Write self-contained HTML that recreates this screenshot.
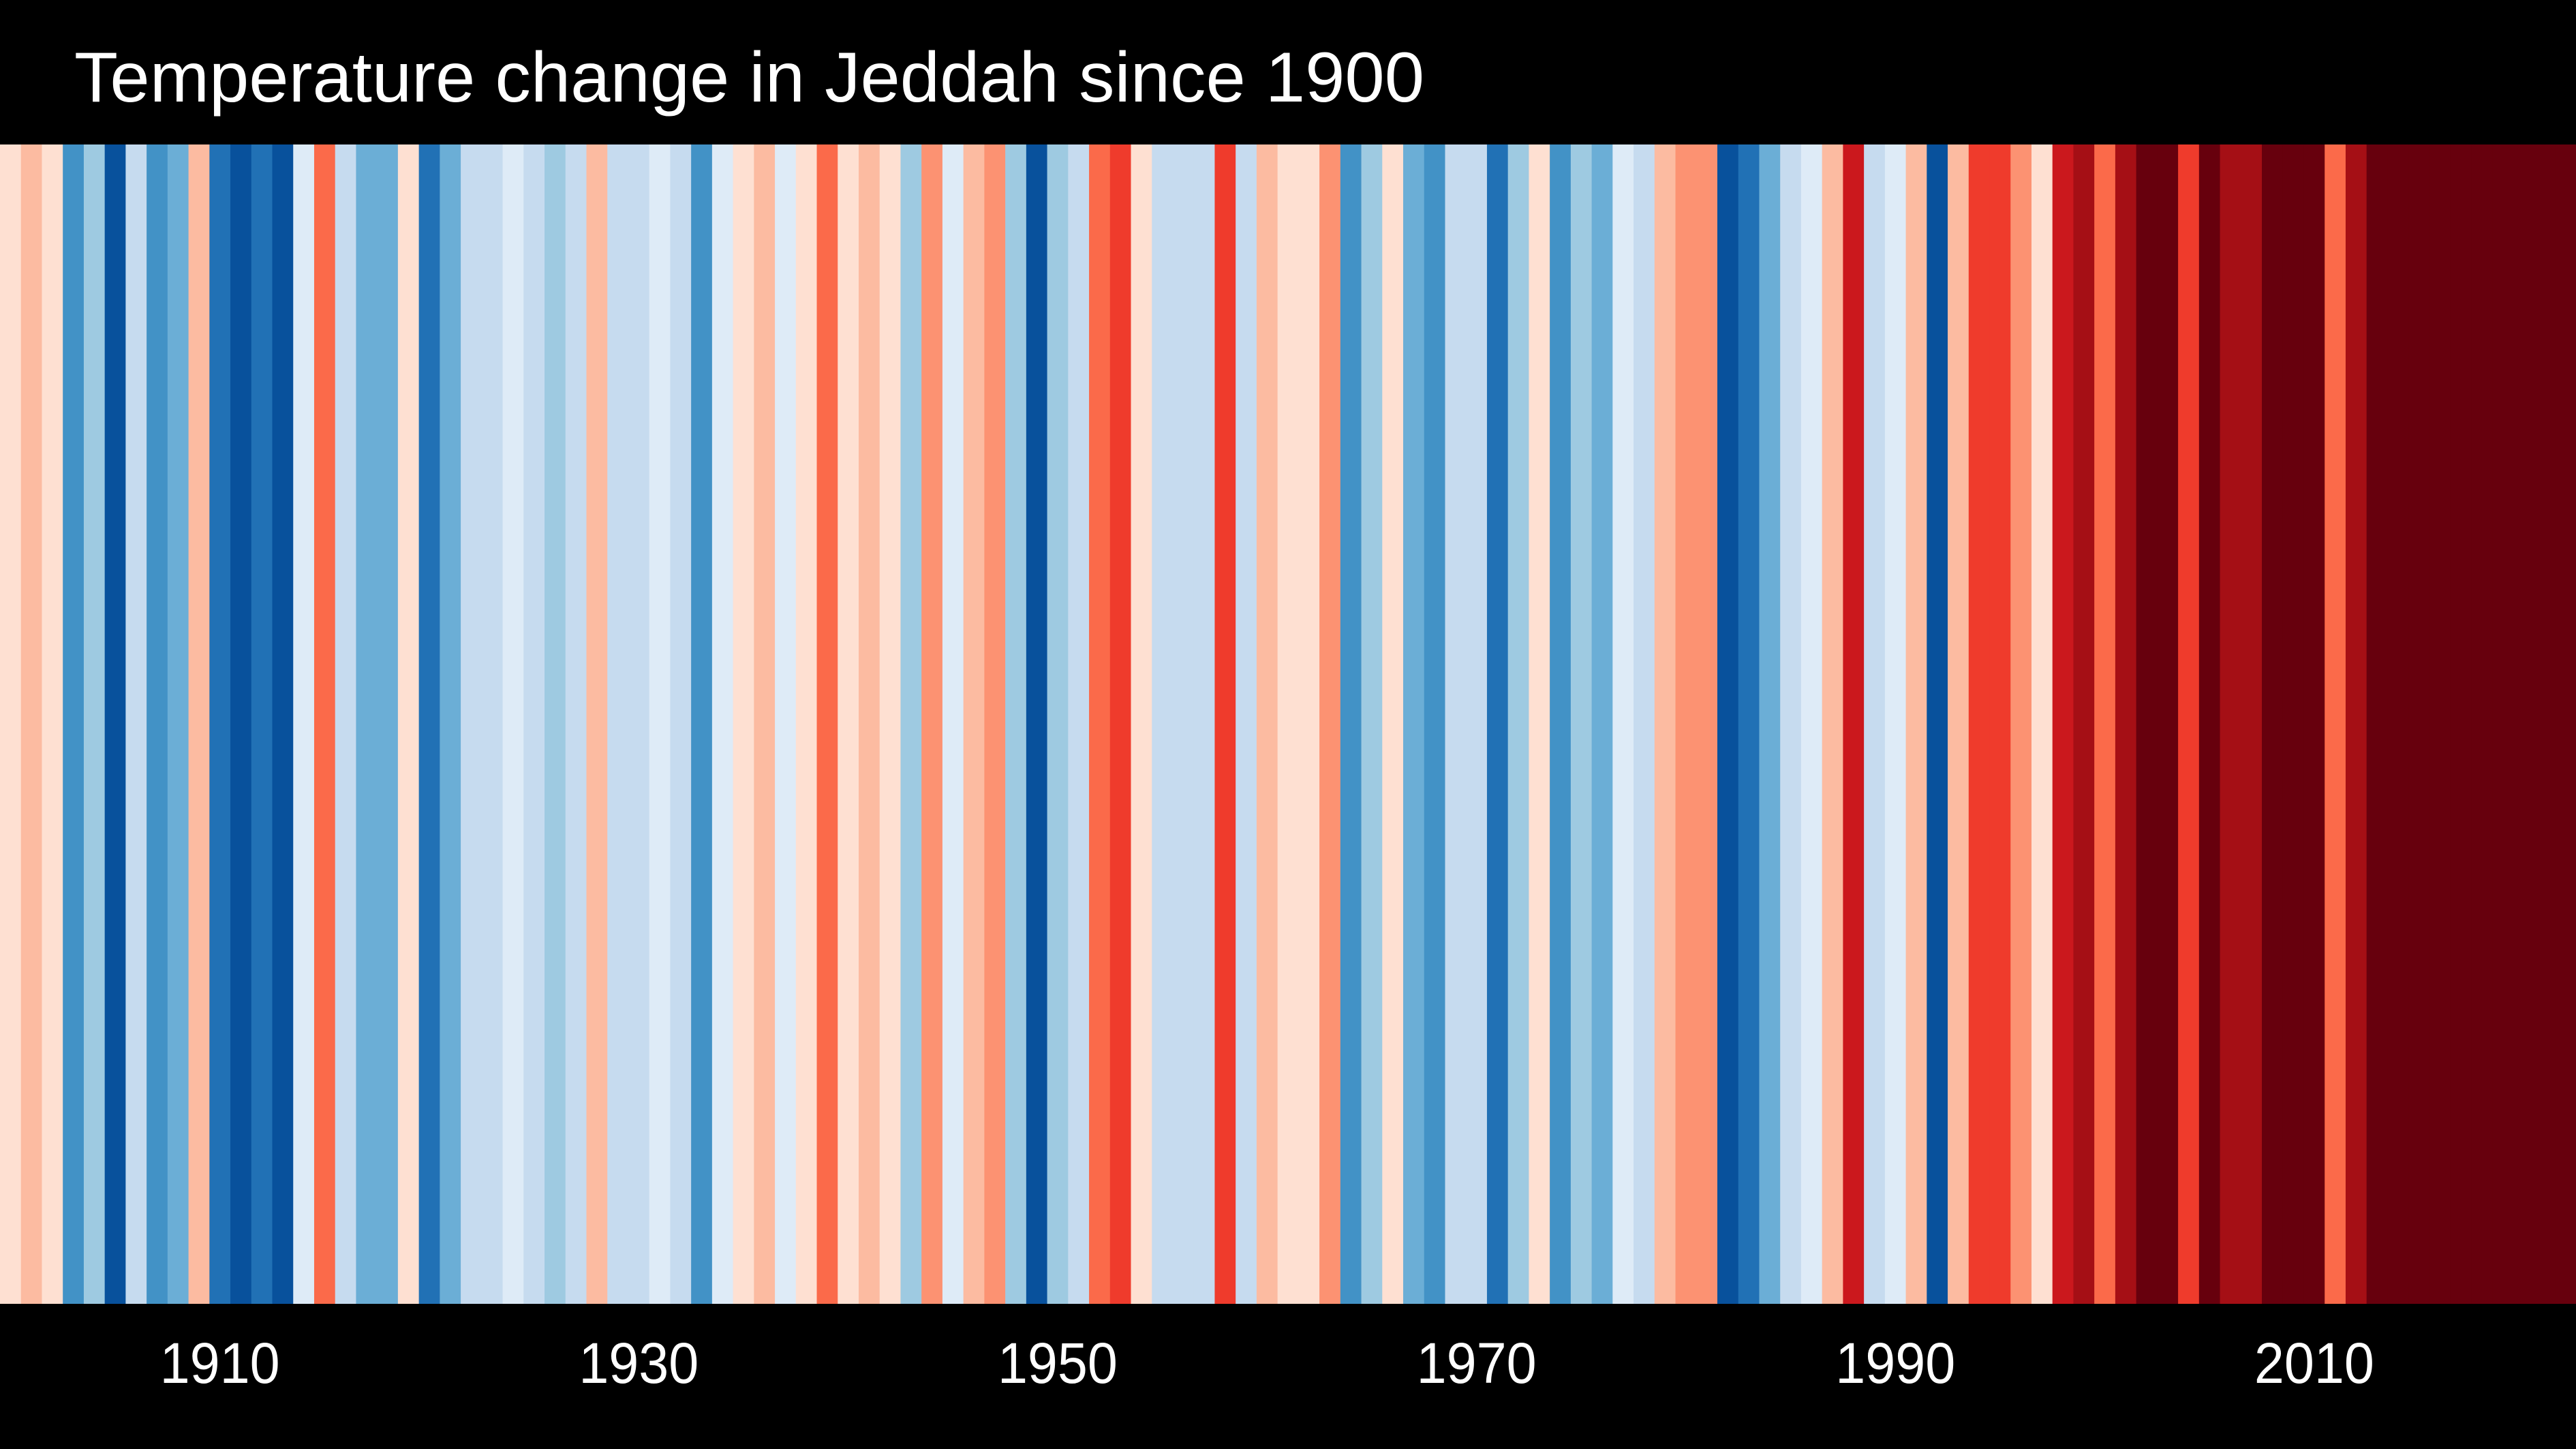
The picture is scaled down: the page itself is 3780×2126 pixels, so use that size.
<!DOCTYPE html>
<html><head><meta charset="utf-8"><style>
html,body{margin:0;padding:0;background:#000;}
svg{display:block;}
</style></head><body>
<svg id="chart" width="3780" height="2126" viewBox="0 0 3780 2126" xmlns="http://www.w3.org/2000/svg">
<rect x="0" y="0" width="3780" height="2126" fill="#000"/>
<text x="109" y="149" font-family="Liberation Sans, sans-serif" font-size="104" fill="#fff" textLength="1981" lengthAdjust="spacingAndGlyphs">Temperature change in Jeddah since 1900</text>
<g id="stripes"></g>
<g id="ticks"></g>
</svg>
<script>
const years = [];
for (let y = 1900; y <= 2022; y++) years.push(y);
const anomalyLevels = [
 1,2,1,-5,-3,-7,-2,-5,-4,2,
 -6,-7,-6,-7,-1,4,-2,-4,-4,1,
 -6,-4,-2,-2,-1,-2,-3,-2,2,-2,
 -2,-1,-2,-5,-1,1,2,-1,1,4,
 1,2,1,-3,3,-1,2,3,-3,-7,
 -3,-2,4,5,1,-2,-2,-2,5,-2,
 2,1,1,3,-5,-3,1,-4,-5,-2,
 -2,-6,-3,1,-5,-3,-4,-1,-2,2,
 3,3,-7,-6,-4,-2,-1,2,6,-2,
 -1,2,-7,2,5,5,3,1,6,7,
 4,7,8,8,5,8,7,7,8,8,
 8,4,7,8,8,8,8,8,8,8,
 8,8,8
];
const tickYears = [1910, 1930, 1950, 1970, 1990, 2010];
const tickLabels = ["1910", "1930", "1950", "1970", "1990", "2010"];

const palette = {
 "-7":"#08519c","-6":"#2171b5","-5":"#4292c6","-4":"#6baed6","-3":"#9ecae1","-2":"#c6dbef","-1":"#deebf7",
 "1":"#fee0d2","2":"#fcbba1","3":"#fc9272","4":"#fb6a4a","5":"#ef3b2c","6":"#cb181d","7":"#a50f15","8":"#67000d"
};
const chartW = 3780, stripeTop = 212, stripeBottom = 1913;
const firstYear = years[0], nYears = years.length;
const stripeW = chartW / nYears;
function xScale(year){ return (year - firstYear) * stripeW; }
function colorFor(v){ return palette[String(Math.max(-7, Math.min(8, Math.round(v) || 1)))]; }

const SVGNS = "http://www.w3.org/2000/svg";
const stripeGroup = document.getElementById("stripes");
years.forEach((yr, i) => {
  const r = document.createElementNS(SVGNS, "rect");
  r.setAttribute("x", xScale(yr));
  r.setAttribute("y", stripeTop);
  r.setAttribute("width", stripeW + 0.6);
  r.setAttribute("height", stripeBottom - stripeTop);
  r.setAttribute("fill", colorFor(anomalyLevels[i]));
  
  
  stripeGroup.appendChild(r);
});
const tickGroup = document.getElementById("ticks");
tickYears.forEach((yr, i) => {
  const t = document.createElementNS(SVGNS, "text");
  t.setAttribute("x", xScale(yr) + stripeW / 2);
  t.setAttribute("y", 2029);
  t.setAttribute("text-anchor", "middle");
  t.setAttribute("font-family", "Liberation Sans, sans-serif");
  t.setAttribute("font-size", "84");
  t.setAttribute("fill", "#fff");
  t.setAttribute("textLength", "176");
  t.setAttribute("lengthAdjust", "spacingAndGlyphs");
  t.textContent = tickLabels[i];
  
  
  tickGroup.appendChild(t);
});
</script>
</body></html>
